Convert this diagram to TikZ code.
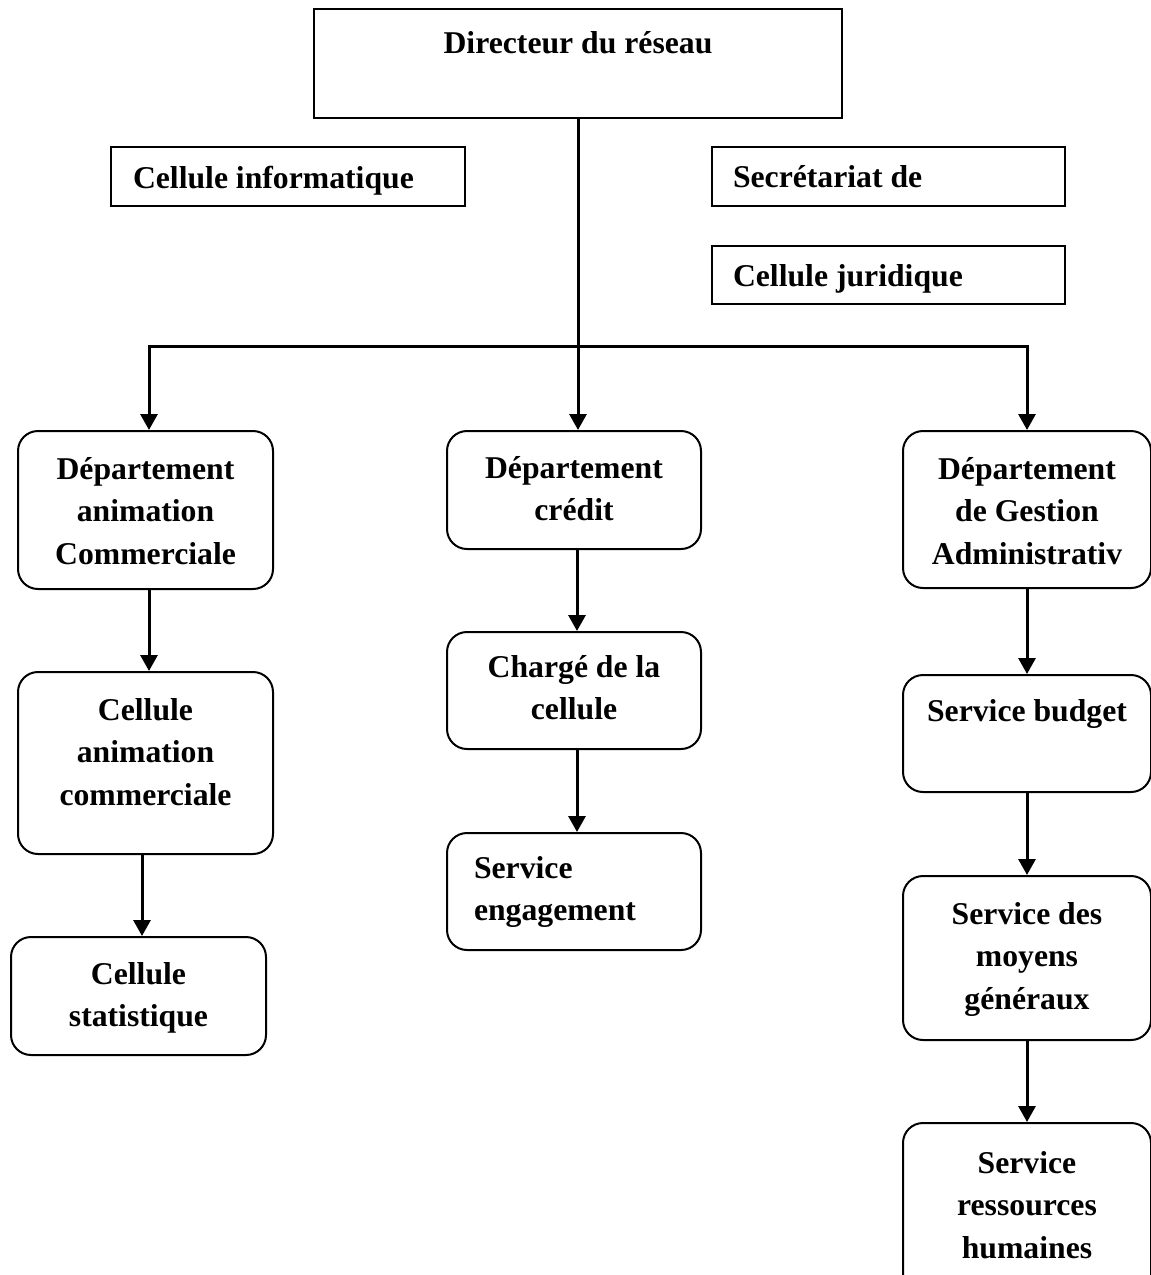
\documentclass[tikz,border=0pt]{standalone}
\usepackage{fontspec}
\setmainfont{Liberation Serif}
\usetikzlibrary{arrows.meta}
\newcommand{\bx}[5]{\parbox[c][#2pt][t]{#1pt}{\bfseries\fontsize{31.7}{42.5}\selectfont\vspace*{#3pt}#4\strut #5\par}}
\tikzset{
  sqbox/.style={draw, line width=2pt, inner sep=0pt, anchor=north west},
  rdbox/.style={draw, line width=2pt, inner sep=0pt, anchor=north west, rounded corners=20pt},
  conn/.style={line width=3pt, -{Triangle[length=16pt,width=17pt]}}
}
\begin{document}
\begin{tikzpicture}[x=1pt,y=-1pt]
\useasboundingbox (0,0) rectangle (1151,1275);
\fill[white] (0,0) rectangle (1151,1275);
% top boxes
\node[sqbox] (dir) at (313,8) {\bx{528}{109}{14.25}{\centering}{Directeur du réseau}};
\node[sqbox] (info) at (110,146) {\bx{354}{59}{11.25}{\raggedright\leftskip=22pt}{Cellule informatique}};
\node[sqbox] (secr) at (711,146) {\bx{353}{59}{10.25}{\raggedright\leftskip=21pt}{Secrétariat de}};
\node[sqbox] (jur) at (711,245) {\bx{353}{58}{10.25}{\raggedright\leftskip=21pt}{Cellule juridique}};
% departments
\node[rdbox] (anim) at (17,430) {\bx{255}{158}{18.25}{\centering}{Département\\animation\\Commerciale}};
\node[rdbox] (credit) at (446,430) {\bx{254}{118}{17.25}{\centering}{Département\\crédit}};
\node[rdbox] (gest) at (902,430) {\bx{248}{157}{18.25}{\centering}{Département\\de Gestion\\Administrativ}};
% left column
\node[rdbox] (canim) at (17,671) {\bx{255}{182}{18.25}{\centering}{Cellule\\animation\\commerciale}};
\node[rdbox] (stat) at (10,936) {\bx{255}{118}{17.25}{\centering}{Cellule\\statistique}};
% middle column
\node[rdbox] (charge) at (446,631) {\bx{254}{117}{15.25}{\centering}{Chargé de la\\cellule}};
\node[rdbox] (engag) at (446,832) {\bx{254}{117}{15.25}{\raggedright\leftskip=27pt}{Service\\engagement}};
% right column
\node[rdbox] (budget) at (902,674) {\bx{248}{117}{16.25}{\centering}{Service budget}};
\node[rdbox] (moyens) at (902,875) {\bx{248}{164}{18.25}{\centering}{Service des\\moyens\\généraux}};
\node[rdbox] (rh) at (902,1122) {\bx{248}{175}{20.25}{\centering}{Service\\ressources\\humaines}};
% connectors
\coordinate (hub) at (577,346);
\draw[conn] (dir.south) -- (dir.south |- credit.north);
\draw[conn] (hub) -| ([xshift=3.5pt]anim.north);
\draw[conn] (hub) -| (gest.north);
\draw[conn] ([xshift=3.5pt]anim.south) -- ([xshift=3.5pt]canim.north);
\draw[conn] ([xshift=-3.5pt]canim.south) -- ([xshift=3.5pt]stat.north);
\draw[conn] ([xshift=3pt]credit.south) -- ([xshift=3pt]charge.north);
\draw[conn] ([xshift=3pt]charge.south) -- ([xshift=3pt]engag.north);
\draw[conn] (gest.south) -- (budget.north);
\draw[conn] (budget.south) -- (moyens.north);
\draw[conn] (moyens.south) -- (rh.north);
\end{tikzpicture}
\end{document}
